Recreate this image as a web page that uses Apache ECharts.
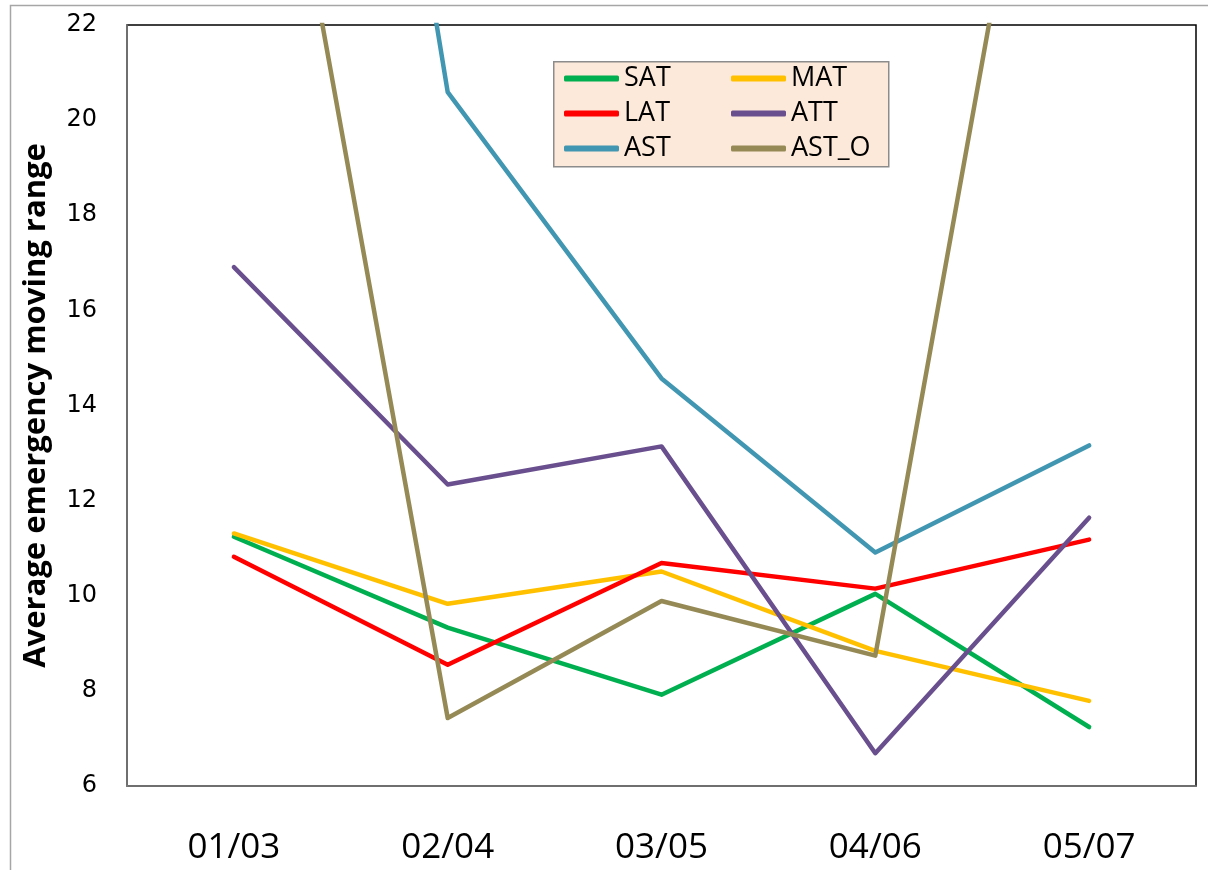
<!DOCTYPE html>
<html>
<head>
<meta charset="utf-8">
<script src="https://cdn.jsdelivr.net/npm/echarts@6/dist/echarts.min.js"></script>
<style>html,body{margin:0;padding:0;background:#fff}#c{width:1208px;height:870px}</style>
</head>
<body>
<div id="c"></div>
<script>
const categories = ['01/03', '02/04', '03/05', '04/06', '05/07'];
const SAT   = [11.24, 9.33, 7.92, 10.04, 7.24];
const MAT   = [11.31, 9.83, 10.51, 8.84, 7.79];
const LAT   = [10.82, 8.55, 10.69, 10.15, 11.18];
const ATT   = [16.91, 12.34, 13.14, 6.69, 11.64];
const AST   = [48.0, 20.59, 14.57, 10.91, 13.16];
const AST_O = [32.3, 7.43, 9.89, 8.74, 33.7];
const yTicks = [6, 8, 10, 12, 14, 16, 18, 20, 22];
const yName = 'Average emergency moving range';
const legendCol1 = ['SAT', 'LAT', 'AST'];
const legendCol2 = ['MAT', 'ATT', 'AST_O'];

const seriesDefs = [
  ['SAT', SAT, '#00B050'],
  ['MAT', MAT, '#FFC000'],
  ['LAT', LAT, '#FF0000'],
  ['ATT', ATT, '#6A4F8E'],
  ['AST', AST, '#4197B1'],
  ['AST_O', AST_O, '#958A55']
];

const FONT = 'Open Sans, sans-serif';
function legendCol(names, left) {
  return {
    left: left, top: 61, orient: 'vertical',
    padding: 0, itemGap: 0,
    itemWidth: 55, itemHeight: 6, icon: 'roundRect',
    data: names,
    textStyle: {fontFamily: FONT, fontSize: 27, color: '#000', lineHeight: 35}
  };
}

const chart = echarts.init(document.getElementById('c'), null, {renderer: 'canvas'});
chart.setOption({
  animation: false,
  backgroundColor: '#fff',
  graphic: [{
    type: 'rect', left: 8, top: 3, silent: true, z: -1,
    shape: {x: 0, y: 0, width: 1220, height: 900},
    style: {fill: 'none', stroke: '#A6A6A6', lineWidth: 1.5}
  }, {
    type: 'rect', left: 553, top: 61, silent: true, z: 0,
    shape: {x: 0, y: 0, width: 335, height: 105},
    style: {fill: '#FDE9D9', stroke: '#8C8C8C', lineWidth: 1.5}
  }],
  grid: {
    left: 127, top: 25, right: 12, bottom: 84,
    show: true, borderColor: '#000', borderWidth: 1.5, backgroundColor: 'transparent'
  },
  legend: [legendCol(legendCol1, 564), legendCol(legendCol2, 731)],
  xAxis: {
    type: 'category', data: categories, boundaryGap: true,
    axisLine: {show: true, lineStyle: {color: '#808080', width: 1.5}},
    axisTick: {show: false},
    axisLabel: {margin: 45, color: '#000', fontSize: 35, fontFamily: FONT},
    splitLine: {show: false}
  },
  yAxis: {
    type: 'value', min: 6, max: 22, interval: 2,
    name: yName, nameLocation: 'middle', nameGap: 75, nameRotate: 90,
    nameTextStyle: {fontFamily: FONT, fontWeight: 'bold', fontSize: 31, color: '#000'},
    axisLine: {show: true, lineStyle: {color: '#808080', width: 1.5}},
    axisTick: {show: false},
    axisLabel: {margin: 30, color: '#000', fontSize: 24, fontFamily: 'DejaVu Sans, sans-serif'},
    splitLine: {show: false}
  },
  series: seriesDefs.map(d => ({
    name: d[0], type: 'line', data: d[1],
    symbol: 'none', clip: true,
    lineStyle: {color: d[2], width: 4.5, cap: 'round', join: 'round'},
    itemStyle: {color: d[2]}
  }))
});
</script>
</body>
</html>
